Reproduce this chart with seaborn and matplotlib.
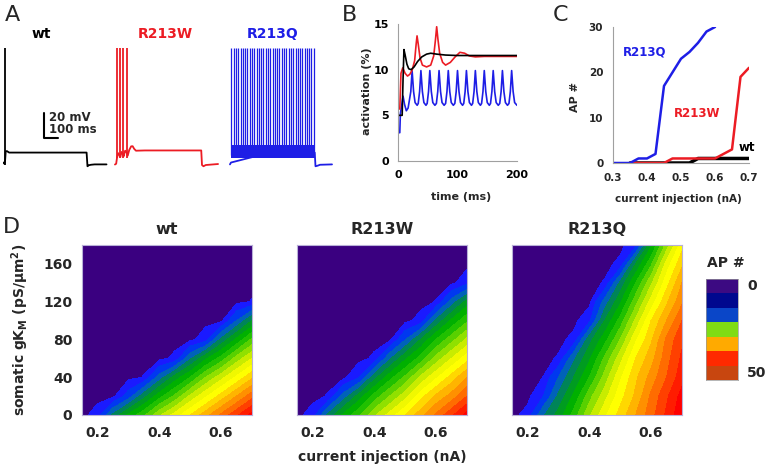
import numpy as np
import matplotlib
matplotlib.use('Agg')
import matplotlib.pyplot as plt
import seaborn as sns
from matplotlib.colors import ListedColormap

# ---------------- data ----------------
# Panel A: membrane potential traces (time ms, mV) + spike times
wt_sub_t = [0, 3, 8, 12, 20, 35, 100, 300, 556, 562, 570, 585, 610, 690]
wt_sub_v = [-70, -71, -68, -61, -60.8, -62, -62, -62, -62, -73, -72.2, -71.8, -71.5, -71.5]
wt_spikes = [5]

w_sub_t = [0, 8, 14, 22, 30, 36, 44, 52, 58, 68, 78, 85, 95, 108, 118, 128, 140, 200, 575, 580, 590, 605, 687]
w_sub_v = [-71.6, -71, -66, -62.5, -64, -65.5, -61.5, -63, -65, -60.5, -62, -64.5, -60, -57, -56.9, -59,
           -60.5, -60.3, -60.3, -72, -73, -72, -71.2]
w_spikes = [11, 33, 55, 82]

q_sub_t = [0, 7, 300, 565, 570, 585, 600, 680]
q_sub_v = [-71.5, -70, -61, -62, -73, -72.5, -71.8, -71.5]
q_band_t = [7, 565]
q_band_lo = [-66.5, -66.5]
q_band_hi = [-56, -56]
q_spikes = [10, 25, 40, 56, 71, 86, 101, 116, 132, 147, 162, 177, 193, 208, 223, 238, 254, 269, 284,
            299, 315, 330, 345, 360, 376, 391, 406, 421, 437, 452, 467, 482, 498, 513, 528, 543, 559]
spike_peak = 22

# Panel B: activation (%) vs time (ms)
b_wt_t = [0, 7, 8.5, 10, 12, 15, 18, 22, 27, 33, 40, 48, 55, 65, 80, 100, 150, 200]
b_wt_v = [5.0, 5.0, 9.0, 12.2, 11.6, 10.6, 10.1, 10.0, 10.3, 10.9, 11.4, 11.7, 11.8, 11.7, 11.6, 11.55, 11.55, 11.55]
b_w_t = [0, 3, 5, 8, 12, 16, 20, 24, 28, 30.5, 32, 34, 37, 41, 48, 55, 60, 63, 65, 67, 70, 75, 80, 88, 96,
         104, 112, 120, 130, 145, 200]
b_w_v = [5.7, 5.7, 9.6, 10.2, 9.6, 9.3, 9.5, 10.0, 11.0, 12.8, 13.7, 12.8, 11.3, 10.5, 10.3, 10.5, 11.5,
         13.3, 14.7, 13.4, 11.8, 10.8, 10.5, 10.8, 11.4, 11.9, 11.8, 11.5, 11.4, 11.45, 11.45]
b_q_t = [0, 3, 4, 6, 8.5, 11, 14, 17,
         21.5, 23.7, 26.2, 28.7, 32.2,
         34, 36.3, 38.5, 41, 43.5, 47,
         49, 51.3, 53.5, 56, 58.5, 62,
         64.5, 66.8, 69, 71.5, 74, 77.5,
         80, 82.3, 84.5, 87, 89.5, 93,
         95.5, 97.8, 100, 102.5, 105, 108.5,
         110.5, 112.8, 115, 117.5, 120, 123.5,
         125.5, 127.8, 130, 132.5, 135, 138.5,
         140.5, 142.8, 145, 147.5, 150, 153.5,
         155.5, 157.8, 160, 162.5, 165, 168.5,
         171, 173.3, 175.5, 178, 180.5, 184,
         186.5, 188.8, 191, 193.5, 196, 200]
b_q_v = [3.1, 3.1, 5.2, 6.0, 7.1, 6.2, 5.5, 5.8,
         7.6, 9.9, 7.6, 6.4, 6.1,
         6.3, 7.6, 9.9, 7.6, 6.4, 6.1,
         6.3, 7.6, 9.9, 7.6, 6.4, 6.1,
         6.3, 7.6, 9.9, 7.6, 6.4, 6.1,
         6.3, 7.6, 9.9, 7.6, 6.4, 6.1,
         6.3, 7.6, 9.9, 7.6, 6.4, 6.1,
         6.3, 7.6, 9.9, 7.6, 6.4, 6.1,
         6.3, 7.6, 9.9, 7.6, 6.4, 6.1,
         6.3, 7.6, 9.9, 7.6, 6.4, 6.1,
         6.3, 7.6, 9.9, 7.6, 6.4, 6.1,
         6.3, 7.6, 9.9, 7.6, 6.4, 6.1,
         6.3, 7.6, 9.9, 7.6, 6.4, 6.1]

# Panel C: AP # vs current injection (nA)
c_q_i = [0.3, 0.325, 0.35, 0.375, 0.4, 0.425, 0.45, 0.475, 0.5, 0.525, 0.55, 0.575, 0.6]
c_q_n = [0, 0, 0, 1, 1, 2, 17, 20, 23, 24.5, 26.5, 29, 30]
c_w_i = [0.35, 0.45, 0.475, 0.5, 0.55, 0.6, 0.625, 0.65, 0.675, 0.7]
c_w_n = [0, 0, 1, 1, 1, 1, 2, 3, 19, 21]
c_wt_i = [0.35, 0.525, 0.55, 0.6, 0.65, 0.7]
c_wt_n = [0, 0, 1, 1, 1, 1]

# Panel D: AP # maps; rows = somatic gKM (pS/um2), cols = current injection (nA)
d_current = [0.15, 0.2, 0.25, 0.3, 0.35, 0.4, 0.45, 0.5, 0.55, 0.6, 0.65, 0.7]
d_gkm = [0, 20, 40, 60, 80, 100, 120, 140, 160, 180]
d_wt = [
    [0, 1.25, 8, 13, 17, 22, 26, 30, 34, 38, 42, 46],
    [0, 0, 0, 3.6, 9, 14, 18, 23, 27, 31, 35, 39],
    [0, 0, 0, 0, 0.57, 6, 11, 15, 20, 24, 28, 32],
    [0, 0, 0, 0, 0, 0, 0.83, 7, 12, 16, 21, 25],
    [0, 0, 0, 0, 0, 0, 0, 0, 1.5, 8, 13, 18],
    [0, 0, 0, 0, 0, 0, 0, 0, 0, 0, 5, 10],
    [0, 0, 0, 0, 0, 0, 0, 0, 0, 0, 0, 0.6],
    [0, 0, 0, 0, 0, 0, 0, 0, 0, 0, 0, 0],
    [0, 0, 0, 0, 0, 0, 0, 0, 0, 0, 0, 0],
    [0, 0, 0, 0, 0, 0, 0, 0, 0, 0, 0, 0],
]
d_r213w = [
    [0, 1.25, 8, 13, 17, 22, 26, 30, 34, 38, 42, 46],
    [0, 0, 0.62, 6, 11, 16, 20, 24, 29, 33, 36, 40],
    [0, 0, 0, 0, 2.3, 9, 14, 18, 23, 27, 31, 35],
    [0, 0, 0, 0, 0, 0.78, 7, 12, 16, 21, 25, 29],
    [0, 0, 0, 0, 0, 0, 0, 4.8, 10, 15, 19, 23],
    [0, 0, 0, 0, 0, 0, 0, 0, 1.1, 8, 13, 17],
    [0, 0, 0, 0, 0, 0, 0, 0, 0, 0.57, 6, 11],
    [0, 0, 0, 0, 0, 0, 0, 0, 0, 0, 0, 1.8],
    [0, 0, 0, 0, 0, 0, 0, 0, 0, 0, 0, 0],
    [0, 0, 0, 0, 0, 0, 0, 0, 0, 0, 0, 0],
]
d_r213q = [
    [0, 1.1, 7, 11, 16, 22, 27, 31, 35, 39, 43, 47],
    [0, 0, 2.3, 8, 13, 19, 24, 29, 33, 38, 42, 46],
    [0, 0, 0.51, 5, 10, 15, 21, 27, 32, 36, 40, 44],
    [0, 0, 0, 0.68, 7, 12, 18, 24, 30, 34, 39, 43],
    [0, 0, 0, 0, 1.0, 9, 14, 20, 27, 32, 38, 42],
    [0, 0, 0, 0, 0, 1.9, 10, 16, 23, 30, 35, 40],
    [0, 0, 0, 0, 0, 0, 6, 12, 19, 26, 32, 37],
    [0, 0, 0, 0, 0, 0, 0.64, 8, 15, 22, 29, 35],
    [0, 0, 0, 0, 0, 0, 0, 0.93, 10, 17, 26, 32],
    [0, 0, 0, 0, 0, 0, 0, 0, 1.7, 12, 21, 29],
]
d_titles = ['wt', 'R213W', 'R213Q']
cb_labels = ['0', '', '', '', '', '', '50']

# ---------------- style ----------------
sns.set_theme(style='white')
plt.rcParams['font.family'] = ['DejaVu Sans']
plt.rcParams['font.weight'] = 'bold'
plt.rcParams['axes.labelweight'] = 'bold'

RED = '#ec1c24'
BLUE = '#1e1ee6'
GRAY = '#a0a0a0'

levels = [-1, 0.5, 2.5, 5, 7.5, 10, 12.5, 15, 17.5, 20, 22.5, 25, 27.5, 30, 32.5, 35, 37.5, 40,
          42.5, 45, 47.5, 60]
band_colors = ['#3a0080', '#1a1aff', '#0038f0', '#0062b8', '#008458', '#009c20', '#00b000', '#20c000',
               '#58d000', '#90e000', '#c8ec00', '#f0f800', '#ffff00', '#ffd800', '#ffb400', '#ff9000',
               '#ff6c00', '#ff4000', '#ff1c00', '#ff0000', '#ff0000']
cb_colors = ['#3c0a82', '#00088e', '#0a46c8', '#80dc14', '#ffaa00', '#ff2a00', '#c8460f']

W, H = 768, 468
fig = plt.figure(figsize=(W / 100, H / 100), dpi=100)


def rect(x0, y0, x1, y1):
    return [x0 / W, 1 - y1 / H, (x1 - x0) / W, (y1 - y0) / H]


def ftext(x, y, s, **kw):
    fig.text(x / W, 1 - y / H, s, **kw)


# ---------------- Panel A ----------------
traces = [
    ((2, 45, 108, 170), wt_sub_t, wt_sub_v, wt_spikes, 'black', -72, 1.3),
    ((113, 45, 220, 170), w_sub_t, w_sub_v, w_spikes, RED, -66, 1.3),
    ((228, 45, 335, 170), q_sub_t, q_sub_v, q_spikes, BLUE, -64, 0.9),
]
axA = []
for r, tt, vv, sp, col, lo, slw in traces:
    ax = fig.add_axes(rect(*r))
    sns.lineplot(x=tt, y=vv, ax=ax, color=col, lw=1.3, estimator=None, sort=False)
    ax.vlines(sp, lo, spike_peak, color=col, lw=slw)
    ax.set_xlim(-13, 700)
    ax.set_ylim(-76, 24.4)
    ax.axis('off')
    axA.append(ax)
axA[2].fill_between(q_band_t, q_band_lo, q_band_hi, color=BLUE, lw=0)
# scale bar: 20 mV, 100 ms
sb_t, sb_v = 267, -50
axA[0].plot([sb_t, sb_t, sb_t + 100], [sb_v + 20, sb_v, sb_v], color='black', lw=1.5)
axA[0].text(sb_t + 38, sb_v + 16.5, '20 mV', fontsize=8.5, va='center', ha='left')
axA[0].text(sb_t + 38, sb_v + 6.5, '100 ms', fontsize=8.5, va='center', ha='left')
ftext(41, 34, 'wt', fontsize=10, ha='center', va='center', color='black')
ftext(165, 34, 'R213W', fontsize=10, ha='center', va='center', color=RED)
ftext(273, 34, 'R213Q', fontsize=10, ha='center', va='center', color=BLUE)

# ---------------- Panel B ----------------
axB = fig.add_axes(rect(398, 24, 517, 161))
sns.lineplot(x=b_q_t, y=b_q_v, ax=axB, color=BLUE, lw=1.2, estimator=None, sort=False)
sns.lineplot(x=b_w_t, y=b_w_v, ax=axB, color=RED, lw=1.2, estimator=None, sort=False)
sns.lineplot(x=b_wt_t, y=b_wt_v, ax=axB, color='black', lw=1.2, estimator=None, sort=False)
axB.set_xlim(0, 200)
axB.set_ylim(0, 15)
axB.set_xticks([0, 100, 200])
axB.set_yticks([0, 5, 10, 15])
sns.despine(ax=axB)
for s in ['left', 'bottom']:
    axB.spines[s].set_color(GRAY)
    axB.spines[s].set_linewidth(0.8)
axB.tick_params(color=RED, labelcolor='black', direction='inout', length=3, width=1,
                labelsize=8, pad=5)
axB.set_xlabel('')
axB.set_ylabel('')
ftext(367, 91, 'activation (%)', fontsize=8, rotation=90, ha='center', va='center')
ftext(461, 197, 'time (ms)', fontsize=8, ha='center', va='center')

# ---------------- Panel C ----------------
axC = fig.add_axes(rect(613, 27, 749, 163))
sns.lineplot(x=c_wt_i, y=c_wt_n, ax=axC, color='black', lw=2.5, estimator=None, sort=False)
sns.lineplot(x=c_w_i, y=c_w_n, ax=axC, color=RED, lw=1.8, estimator=None, sort=False)
sns.lineplot(x=c_q_i, y=c_q_n, ax=axC, color=BLUE, lw=1.8, estimator=None, sort=False)
axC.set_xlim(0.3, 0.7)
axC.set_ylim(0, 30)
axC.set_xticks([0.3, 0.4, 0.5, 0.6, 0.7])
axC.set_yticks([0, 10, 20, 30])
sns.despine(ax=axC)
for s in ['left', 'bottom']:
    axC.spines[s].set_color(GRAY)
    axC.spines[s].set_linewidth(0.8)
axC.tick_params(length=0, labelsize=7.5, pad=7)
axC.set_xlabel('')
axC.set_ylabel('')
axC.text(0.393, 24.5, 'R213Q', color=BLUE, fontsize=8.5, ha='center', va='center')
axC.text(0.546, 11.0, 'R213W', color=RED, fontsize=8.5, ha='center', va='center')
axC.text(0.693, 3.5, 'wt', color='black', fontsize=8.5, ha='center', va='center')
ftext(575, 97, 'AP #', fontsize=8, rotation=90, ha='center', va='center')
ftext(678, 199, 'current injection (nA)', fontsize=7.5, ha='center', va='center')

# ---------------- Panel D ----------------
d_rects = [(82, 245, 252, 415), (297, 245, 467, 415), (512, 245, 682, 415)]
for k, (Z, r, title) in enumerate(zip([d_wt, d_r213w, d_r213q], d_rects, d_titles)):
    ax = fig.add_axes(rect(*r))
    ax.contourf(d_current, d_gkm, np.array(Z, dtype=float), levels=levels, colors=band_colors)
    ax.set_xlim(0.15, 0.7)
    ax.set_ylim(0, 180)
    ax.set_xticks([0.2, 0.4, 0.6])
    ax.set_yticks([0, 40, 80, 120, 160])
    ax.set_yticks([20, 60, 100, 140], minor=True)
    ax.tick_params(which='both', direction='in', length=2.5, width=0.6, color='#9a9abf',
                   labelsize=10, left=True, bottom=True)
    ax.tick_params(axis='x', pad=8)
    ax.tick_params(axis='y', pad=7)
    if k > 0:
        ax.set_yticklabels([])
    for s in ax.spines.values():
        s.set_color('#b8b0d8')
        s.set_linewidth(0.8)
    cx = (r[0] + r[2]) / 2
    ftext(cx, 229, title, fontsize=11.5, ha='center', va='center')

ftext(20, 330, 'somatic gK$_\\mathregular{M}$ (pS/μm$^\\mathregular{2}$)', fontsize=10, rotation=90,
      ha='center', va='center')
ftext(382, 457, 'current injection (nA)', fontsize=10, ha='center', va='center')

# colour legend
axL = fig.add_axes(rect(706, 279, 738, 380))
sns.heatmap(np.arange(len(cb_colors)).reshape(-1, 1), cmap=ListedColormap(cb_colors), cbar=False,
            ax=axL, xticklabels=False, yticklabels=False)
for s in axL.spines.values():
    s.set_visible(True)
    s.set_color('#999999')
    s.set_linewidth(0.5)
ftext(726, 263, 'AP #', fontsize=10, ha='center', va='center')
for i, lab in enumerate(cb_labels):
    if lab:
        ftext(747, 279 + (i + 0.5) * (101 / len(cb_labels)), lab, fontsize=10, ha='left', va='center')

# panel letters
for x, y, s in [(12, 15, 'A'), (350, 15, 'B'), (560, 15, 'C'), (11, 227, 'D')]:
    ftext(x, y, s, fontsize=16, fontweight='normal', ha='center', va='center')

fig.savefig('out.png', dpi=100)
